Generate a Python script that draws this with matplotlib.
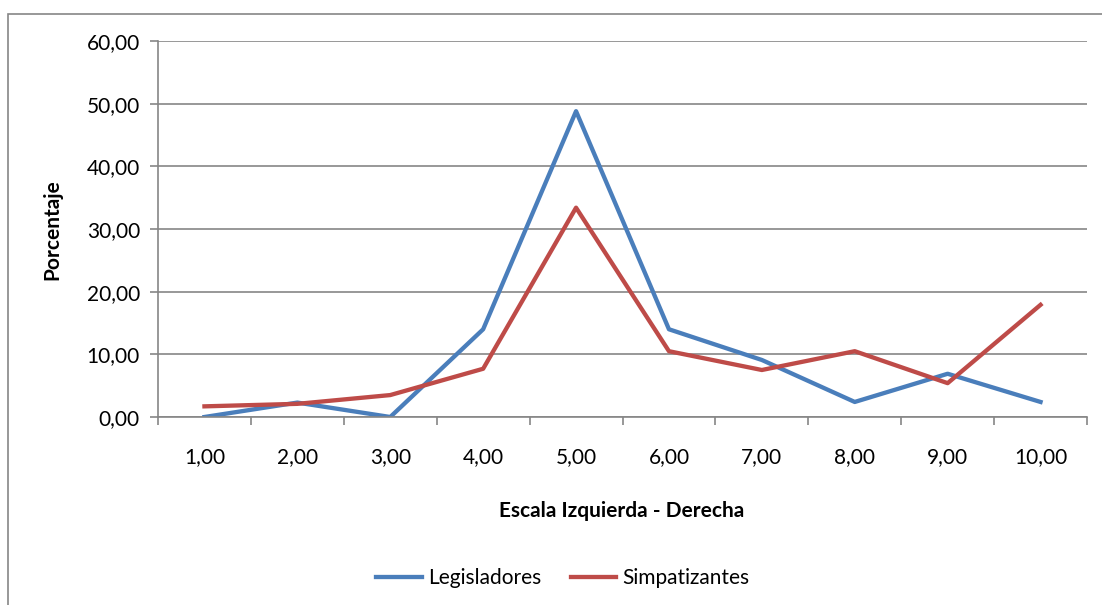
import matplotlib.pyplot as plt
import matplotlib.patches as patches
import numpy as np

plt.rcParams['font.family'] = ['Lato', 'DejaVu Sans']

categories = [1, 2, 3, 4, 5, 6, 7, 8, 9, 10]
legisladores = [0.0, 2.3, 0.0, 14.0, 48.8, 14.0, 9.1, 2.4, 6.9, 2.4]
simpatizantes = [1.7, 2.1, 3.5, 7.7, 33.4, 10.5, 7.5, 10.5, 5.4, 17.9]
y_ticks = [0, 10, 20, 30, 40, 50, 60]

BLUE = "#4A7EBB"
RED = "#BE4B48"
GREY = "#868686"
FS = 15

W, H = 1102, 605
fig = plt.figure(figsize=(W / 100, H / 100), dpi=100)

# chart area border (right/bottom edges fall outside the image)
fig.patches.append(patches.Rectangle((8 / W, -0.1), 1.2, (H - 14) / H + 0.1,
                                     transform=fig.transFigure, fill=False,
                                     edgecolor=GREY, linewidth=1.2))

ax = fig.add_axes([158 / W, (H - 417) / H, (1087 - 158) / W, (417 - 41) / H])

x = np.arange(len(categories)) + 1
ax.plot(x, legisladores, color=BLUE, linewidth=3.1, label="Legisladores", solid_joinstyle="round")
ax.plot(x, simpatizantes, color=RED, linewidth=3.1, label="Simpatizantes", solid_joinstyle="round")

ax.set_xlim(0.5, len(categories) + 0.5)
ax.set_ylim(0, 60)

ax.set_yticks(y_ticks)
ax.set_yticklabels([("%.2f" % v).replace(".", ",") for v in y_ticks], fontsize=FS)
ax.yaxis.grid(True, color=GREY, linewidth=1.2)
ax.set_axisbelow(True)

ax.set_xticks(x)
ax.set_xticklabels([("%.2f" % v).replace(".", ",") for v in categories], fontsize=FS)
ax.set_xticks(np.arange(0.5, len(categories) + 1, 1), minor=True)
ax.tick_params(axis="x", which="major", length=0, pad=22)
ax.tick_params(axis="x", which="minor", length=6, color=GREY, width=1.2)
ax.tick_params(axis="y", length=6, color=GREY, width=1.2, pad=7)

for s in ["top", "right"]:
    ax.spines[s].set_visible(False)
for s in ["left", "bottom"]:
    ax.spines[s].set_color(GREY)
    ax.spines[s].set_linewidth(1.2)

fig.text(52 / W, 1 - 230 / H, "Porcentaje", rotation=90, fontsize=FS,
         fontweight="bold", ha="center", va="center")
fig.text(622 / W, 1 - 511 / H, "Escala Izquierda - Derecha", fontsize=FS,
         fontweight="bold", ha="center", va="center")

fig.legend(loc="center", bbox_to_anchor=(563 / W, 1 - 578 / H), ncol=2,
           frameon=False, fontsize=FS, handlelength=2.2, handletextpad=0.3,
           columnspacing=1.4)

plt.savefig("out.png", dpi=100)
